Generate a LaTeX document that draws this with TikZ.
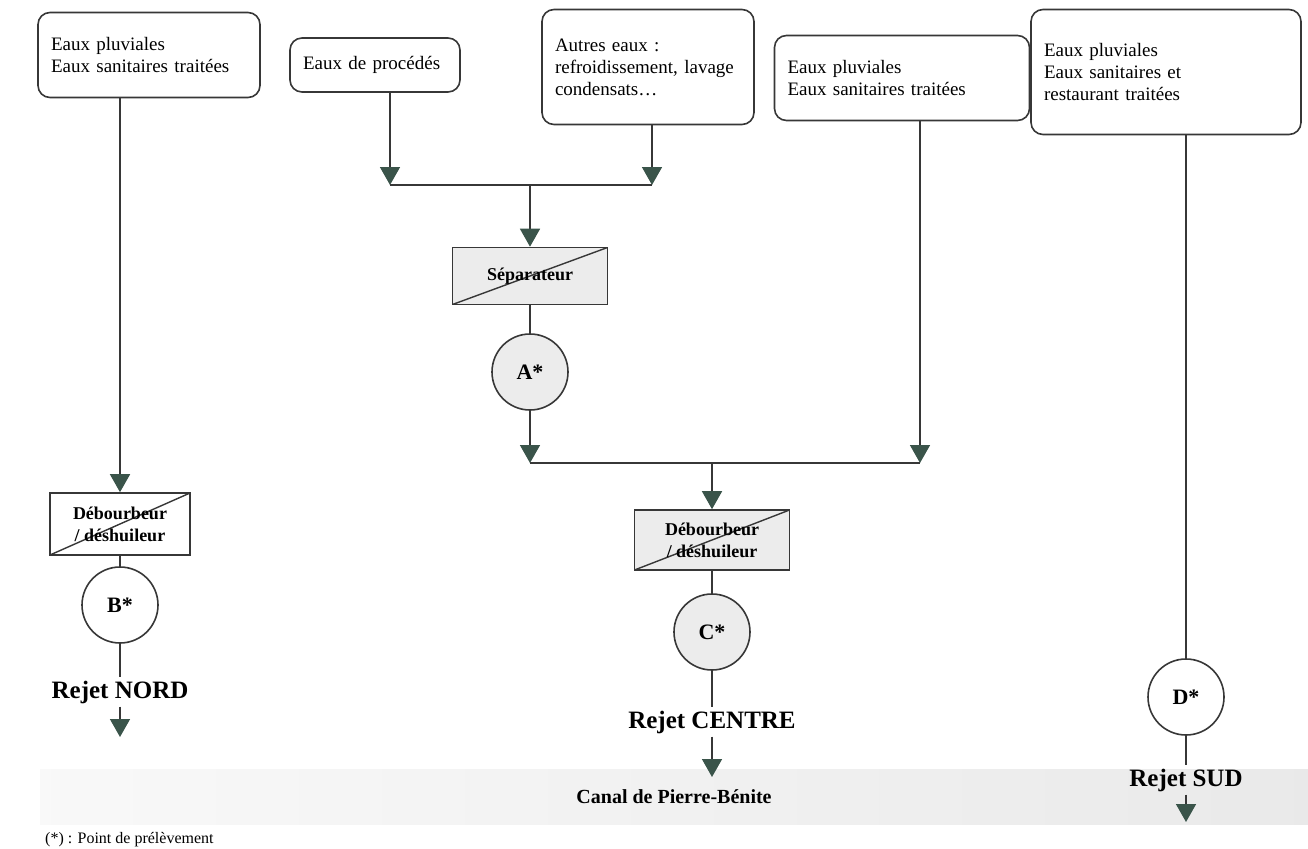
\documentclass[tikz,border=0pt]{standalone}
\usepackage{fontspec}
\setmainfont{Liberation Serif}
\usepackage{xcolor}
\usepackage{tikz}
\usetikzlibrary{arrows.meta}
\definecolor{tipgreen}{RGB}{58,84,74}
\definecolor{inkgray}{RGB}{55,55,55}

\begin{document}
\begin{tikzpicture}[x=1pt,y=-1pt,
  src/.style={draw=inkgray,line width=1.6pt,rounded corners=12pt,align=left,inner xsep=13pt,inner ysep=0pt,font=\fontsize{19}{22}\selectfont},
  trt/.style={draw=inkgray,line width=1.6pt,fill=gray!15,align=center,inner sep=0pt,font=\bfseries\fontsize{18}{22}\selectfont,
    path picture={\draw[inkgray,line width=1.4pt] (path picture bounding box.south west) -- (path picture bounding box.north east);}},
  pt/.style={circle,draw=inkgray,line width=1.6pt,minimum size=76pt,inner sep=0pt,font=\bfseries\fontsize{22}{26}\selectfont},
  rej/.style={inner sep=3pt,font=\bfseries\fontsize{25}{29}\selectfont},
  ln/.style={inkgray,line width=1.6pt},
  ar/.style={ln,-{Triangle[width=20pt,length=18pt,color=tipgreen,fill=tipgreen]}}]
\useasboundingbox (0,0) rectangle (1308,848);
\clip (0,0) rectangle (1308,848);
% canal
\node[minimum width=1268pt,minimum height=55pt,left color=gray!5,right color=gray!17,inner sep=0pt,
  font=\bfseries\fontsize{20}{24}\selectfont] (canal) at (674,797) {Canal de Pierre-Bénite};
% sources
\node[src,minimum width=222pt,minimum height=85pt,text width=196pt] (src1) at (149,55) {Eaux pluviales\\Eaux sanitaires traitées};
\node[src,minimum width=170pt,minimum height=54pt,text width=144pt] (src2) at (375,65) {Eaux de procédés};
\node[src,minimum width=212pt,minimum height=115pt,text width=186pt] (src3) at (648,67) {Autres eaux :\\refroidissement, lavage\\condensats…};
\node[src,minimum width=255pt,minimum height=85pt,text width=229pt] (src4) at (902,78) {Eaux pluviales\\Eaux sanitaires traitées};
\node[src,minimum width=270pt,minimum height=125pt,text width=244pt] (src5) at (1166,72) {Eaux pluviales\\Eaux sanitaires et\\restaurant traitées};
% traitements
\node[trt,minimum width=155pt,minimum height=57pt] (sep) at (530,276) {Séparateur};
\node[trt,fill=white,minimum width=140pt,minimum height=62pt] (deb1) at (120,524) {Débourbeur\\/ déshuileur};
\node[trt,minimum width=155pt,minimum height=60pt] (deb2) at (712,540) {Débourbeur\\/ déshuileur};
% points
\node[pt,fill=gray!15] (ptA) at (530,372) {A*};
\node[pt,fill=white]   (ptB) at (120,605) {B*};
\node[pt,fill=gray!15] (ptC) at (712,632) {C*};
\node[pt,fill=white]   (ptD) at (1186,697) {D*};
% rejets
\node[rej] (rejN) at (120,692) {Rejet NORD};
\node[rej] (rejC) at (712,722) {Rejet CENTRE};
\node[rej] (rejS) at (1186,780) {Rejet SUD};
\node[anchor=base west,inner sep=0pt,font=\fontsize{16}{20}\selectfont] (note) at (45,843) {(*) : Point de prélèvement};
% jonctions
\coordinate (j1) at (390,185);
\coordinate (j2) at (652,185);
\coordinate (jm) at (530,185);
\coordinate (k1) at (530,463);
\coordinate (k2) at (920,463);
\coordinate (km) at (712,463);
\coordinate (outN) at (120,737);
\coordinate (outC) at (712,777);
\coordinate (outS) at (1186,822);
% reseau NORD
\draw[ar] (src1.south -| deb1.north) -- (deb1.north);
\draw[ln] (deb1) -- (ptB);
\draw[ln] (ptB) -- (rejN);
\draw[ar] (rejN) -- (outN);
% reseau CENTRE
\draw[ar] (src2.south -| j1) -- (j1);
\draw[ar] (src3.south -| j2) -- (j2);
\draw[ln] (j1) -- (j2);
\draw[ar] (jm) -- (sep.north);
\draw[ln] (sep) -- (ptA);
\draw[ar] (ptA) -- (k1);
\draw[ar] (src4.south -| k2) -- (k2);
\draw[ln] (k1) -- (k2);
\draw[ar] (km) -- (deb2.north);
\draw[ln] (deb2) -- (ptC);
\draw[ln] (ptC) -- (rejC);
\draw[ar] (rejC) -- (outC);
% reseau SUD
\draw[ln] (src5.south -| ptD) -- (ptD);
\draw[ln] (ptD) -- (rejS);
\draw[ar] (rejS) -- (outS);
\end{tikzpicture}
\end{document}
